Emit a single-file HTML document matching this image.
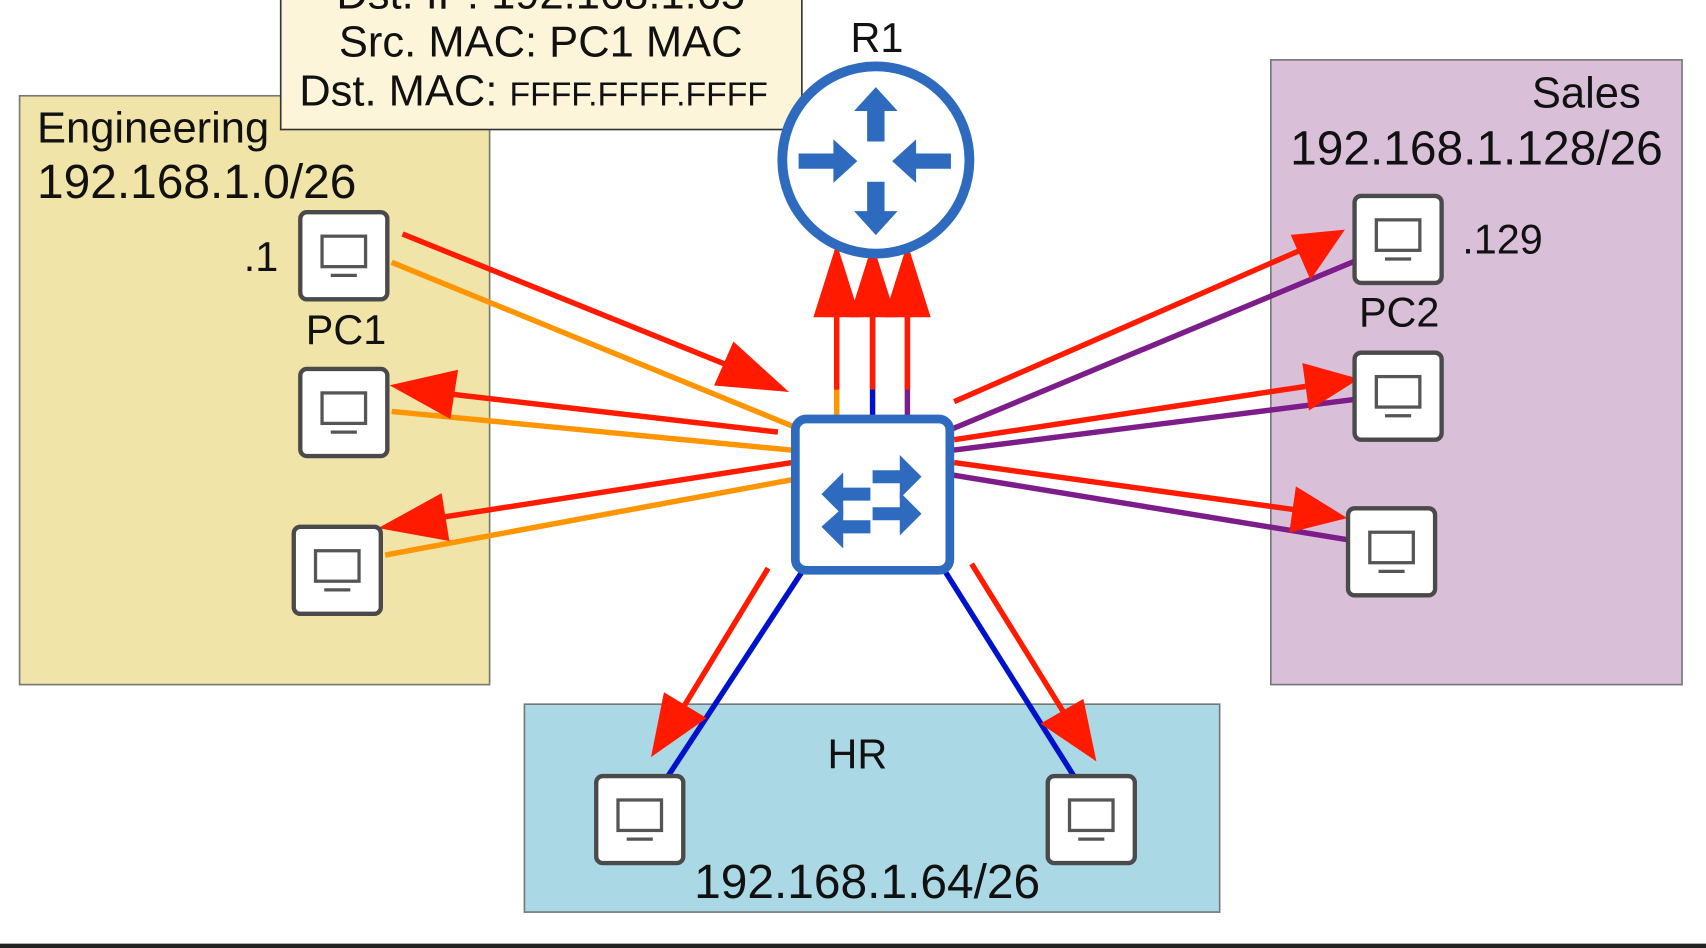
<!DOCTYPE html>
<html><head><meta charset="utf-8"><style>
html,body{margin:0;padding:0;background:#fff;}
svg{display:block;}
text{font-family:"Liberation Sans",sans-serif;fill:#111;}
</style></head><body>
<svg width="1706" height="948" viewBox="0 0 1568 871" preserveAspectRatio="none">
<defs>
<g id="pc">
<rect x="2" y="2" width="80" height="80" rx="6" fill="#fff" stroke="#4a4a4a" stroke-width="4"/>
<rect x="22" y="24" width="40" height="28" fill="none" stroke="#555" stroke-width="3"/>
<line x1="30" y1="60" x2="54" y2="60" stroke="#555" stroke-width="3"/>
</g>
</defs>
<rect x="18" y="88" width="432" height="541" fill="#f0e4a8" stroke="#777" stroke-width="1.5"/>
<rect x="1168" y="55" width="378" height="574" fill="#d9c0d8" stroke="#777" stroke-width="1.5"/>
<rect x="482" y="647" width="639" height="191" fill="#aad9e5" stroke="#777" stroke-width="1.5"/>
<rect x="258" y="-5" width="479" height="124" fill="#fdf5da" stroke="#333" stroke-width="1.5"/>
<text x="497" y="8" font-size="40" text-anchor="middle">Dst. IP: 192.168.1.65</text>
<text x="497" y="52" font-size="40" text-anchor="middle">Src. MAC: PC1 MAC</text>
<text x="275" y="97" font-size="40">Dst. MAC: <tspan font-size="31">FFFF.FFFF.FFFF</tspan></text>
<text x="34" y="131" font-size="40">Engineering</text>
<text x="34" y="182" font-size="44">192.168.1.0/26</text>
<text x="1508" y="99" font-size="40" text-anchor="end">Sales</text>
<text x="1357" y="151" font-size="44" text-anchor="middle">192.168.1.128/26</text>
<text x="788" y="706" font-size="38" text-anchor="middle">HR</text>
<text x="797" y="825" font-size="44" text-anchor="middle">192.168.1.64/26</text>
<text x="806" y="48" font-size="38" text-anchor="middle">R1</text>
<text x="224" y="249" font-size="38">.1</text>
<text x="318" y="316" font-size="38" text-anchor="middle">PC1</text>
<text x="1344" y="233" font-size="38">.129</text>
<text x="1286" y="300" font-size="38" text-anchor="middle">PC2</text>
<g stroke-width="5" fill="none">
<line x1="360" y1="241" x2="732" y2="393" stroke="#ff9500"/>
<line x1="360" y1="378" x2="732" y2="414" stroke="#ff9500"/>
<line x1="354" y1="510" x2="732" y2="440" stroke="#ff9500"/>
<line x1="1245" y1="240" x2="873" y2="395" stroke="#7d1d8a"/>
<line x1="1245" y1="367" x2="873" y2="414" stroke="#7d1d8a"/>
<line x1="1239" y1="496" x2="873" y2="436" stroke="#7d1d8a"/>
<line x1="614" y1="713" x2="738" y2="524" stroke="#0011cc"/>
<line x1="987" y1="713" x2="868" y2="524" stroke="#0011cc"/>
<line x1="769" y1="383" x2="769" y2="230" stroke="#ff9500"/>
<line x1="802" y1="383" x2="802" y2="230" stroke="#0011cc"/>
<line x1="834" y1="383" x2="834" y2="230" stroke="#7d1d8a"/>
</g>
<g stroke="#ff1a00" stroke-width="5" fill="#ff1a00">
<line x1="370" y1="215" x2="680" y2="340"/><polygon points="718,357 660,352 675,318"/>
<line x1="715" y1="397" x2="405" y2="361"/><polygon points="365,355 418,343 412,381"/>
<line x1="728" y1="425" x2="395" y2="477"/><polygon points="355,484 404,457 410,494"/>
<line x1="769" y1="358" x2="769" y2="280"/><polygon points="769,232 751,289 787,289"/>
<line x1="802" y1="358" x2="802" y2="280"/><polygon points="802,232 784,289 820,289"/>
<line x1="834" y1="358" x2="834" y2="280"/><polygon points="834,232 816,289 852,289"/>
<line x1="877" y1="369" x2="1195" y2="230"/><polygon points="1231,214 1205,252 1190,218"/>
<line x1="877" y1="404" x2="1200" y2="355"/><polygon points="1243,349 1205,373 1200,337"/>
<line x1="877" y1="425" x2="1195" y2="469"/><polygon points="1232,475 1188,486 1193,451"/>
<line x1="706" y1="522" x2="628" y2="650"/><polygon points="602,690 612,640 645,660"/>
<line x1="893" y1="518" x2="978" y2="655"/><polygon points="1004,694 961,665 994,646"/>
</g>
<circle cx="805" cy="147" r="86" fill="#fff" stroke="#2e6bbf" stroke-width="9"/>
<g fill="#2e6bbf">
<polygon points="805,80 825,102 813,102 813,130 797,130 797,102 785,102"/>
<polygon points="805,216 825,194 813,194 813,167 797,167 797,194 785,194"/>
<polygon points="788,148 766,128 766,141 734,141 734,155 766,155 766,168"/>
<polygon points="820,148 842,128 842,141 874,141 874,155 842,155 842,168"/>
</g>
<rect x="731" y="385" width="142" height="139" rx="10" fill="#fff" stroke="#2e6bbf" stroke-width="8"/>
<g fill="#2e6bbf">
<polygon points="847,438 827,418 827,432 802,432 802,444 827,444 827,458"/>
<polygon points="847,472 827,452 827,466 802,466 802,478 827,478 827,492"/>
<polygon points="755,454 775,434 775,448 800,448 800,460 775,460 775,474"/>
<polygon points="755,484 775,466 775,478 800,478 800,490 775,490 775,504"/>
</g>
<use href="#pc" x="274" y="193"/>
<use href="#pc" x="274" y="337"/>
<use href="#pc" x="268" y="482"/>
<use href="#pc" x="1243" y="178"/>
<use href="#pc" x="1243" y="322"/>
<use href="#pc" x="1237" y="465"/>
<use href="#pc" x="546" y="711"/>
<use href="#pc" x="961" y="711"/>
<rect x="0" y="867" width="1568" height="4" fill="#222"/>
</svg>
</body></html>
